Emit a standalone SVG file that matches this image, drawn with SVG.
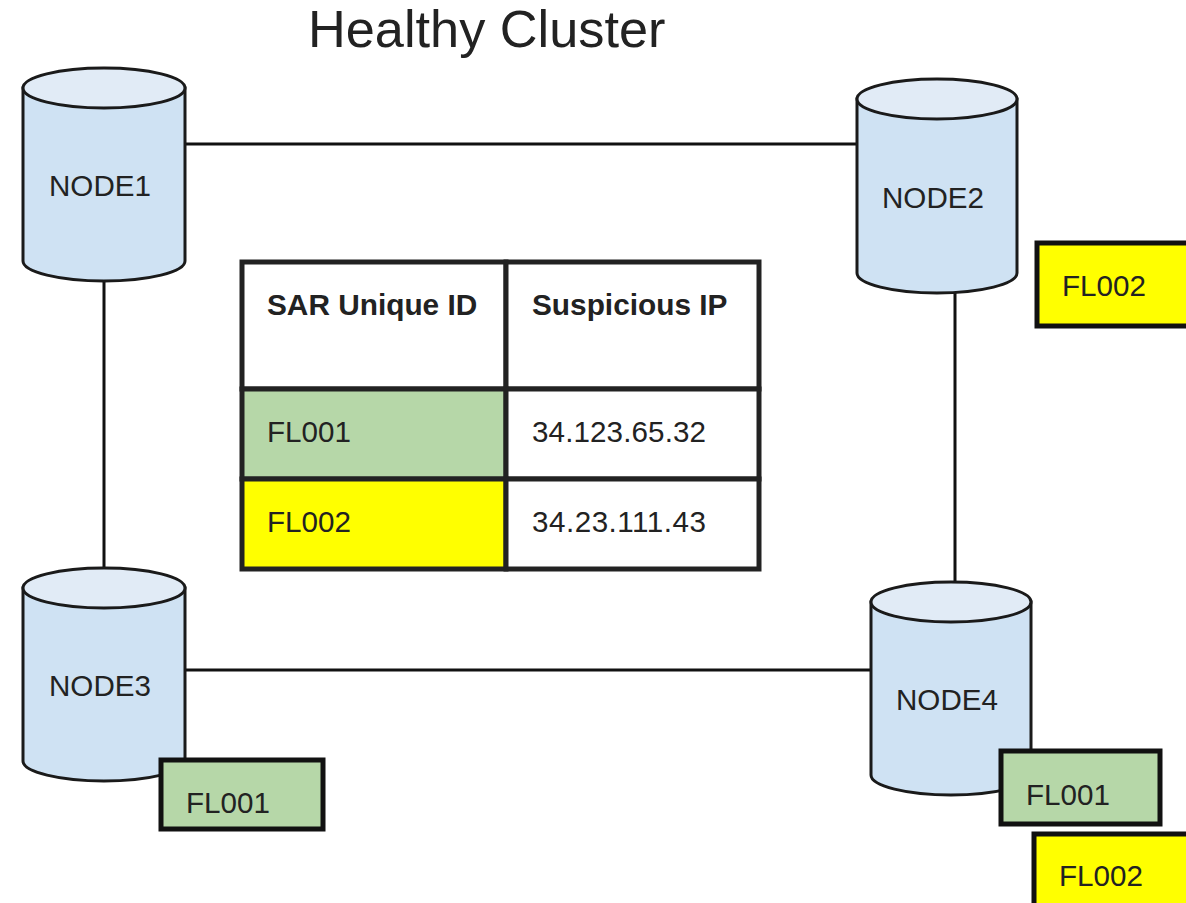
<svg xmlns="http://www.w3.org/2000/svg" width="1186" height="903" viewBox="0 0 1186 903">
<style>
text{font-family:"Liberation Sans",Arial,sans-serif;font-size:29.6px;fill:#222}
.b{font-weight:bold;font-size:29.8px}
.cyl{fill:#cfe2f3;stroke:#1a1a1a;stroke-width:3}
.top{fill:#e1ebf6;stroke:#1a1a1a;stroke-width:3}
.line{stroke:#111;stroke-width:3;fill:none}
.box{stroke:#111;stroke-width:5}
.g{fill:#b6d7a8}.y{fill:#ffff00}
.cell{stroke:#222;stroke-width:5}
</style>
<rect width="1186" height="903" fill="#fff"/>
<text x="308" y="47" style="font-size:52.3px">Healthy Cluster</text>
<g id="connectors">
<path class="line" d="M186 144H857M104 281V569M955 293V582M186 670H871"/>
</g>
<g id="node1"><path class="cyl" d="M23 88V261C23 272 60 281 104 281S185 272 185 261V88Z"/><ellipse class="top" cx="104" cy="88" rx="81" ry="20"/><text x="49" y="196">NODE1</text></g>
<g id="node2"><path class="cyl" d="M857 99V273C857 284 893 293 937 293S1017 284 1017 273V99Z"/><ellipse class="top" cx="937" cy="99" rx="80" ry="20"/><text x="882" y="208">NODE2</text></g>
<g id="node3"><path class="cyl" d="M23 588V761C23 772 60 781 104 781S185 772 185 761V588Z"/><ellipse class="top" cx="104" cy="588" rx="81" ry="20"/><text x="49" y="696">NODE3</text></g>
<g id="node4"><path class="cyl" d="M871 602V775C871 786 907 795 951 795S1031 786 1031 775V602Z"/><ellipse class="top" cx="951" cy="602" rx="80" ry="20"/><text x="896" y="710">NODE4</text></g>
<g id="table">
<rect x="242" y="262" width="264" height="127" fill="#fff" class="cell"/>
<rect x="506" y="262" width="253" height="127" fill="#fff" class="cell"/>
<rect x="242" y="389" width="264" height="90" class="cell g"/>
<rect x="506" y="389" width="253" height="90" fill="#fff" class="cell"/>
<rect x="242" y="479" width="264" height="90" class="cell y"/>
<rect x="506" y="479" width="253" height="90" fill="#fff" class="cell"/>
<text class="b" x="267" y="315">SAR Unique ID</text>
<text class="b" x="532" y="315">Suspicious IP</text>
<text x="267" y="442">FL001</text>
<text x="532" y="442" textLength="174">34.123.65.32</text>
<text x="267" y="532">FL002</text>
<text x="532" y="532" textLength="174">34.23.111.43</text>
</g>
<g id="flag-node2"><rect class="box y" x="1037" y="243" width="152" height="83"/><text x="1062" y="296">FL002</text></g>
<g id="flag-node3"><rect class="box g" x="161" y="760" width="162" height="69"/><text x="186" y="813">FL001</text></g>
<g id="flag-node4-fl001"><rect class="box g" x="1001" y="751" width="159" height="73"/><text x="1026" y="805">FL001</text></g>
<g id="flag-node4-fl002"><rect class="box y" x="1034" y="834" width="156" height="72"/><text x="1059" y="886">FL002</text></g>
</svg>
